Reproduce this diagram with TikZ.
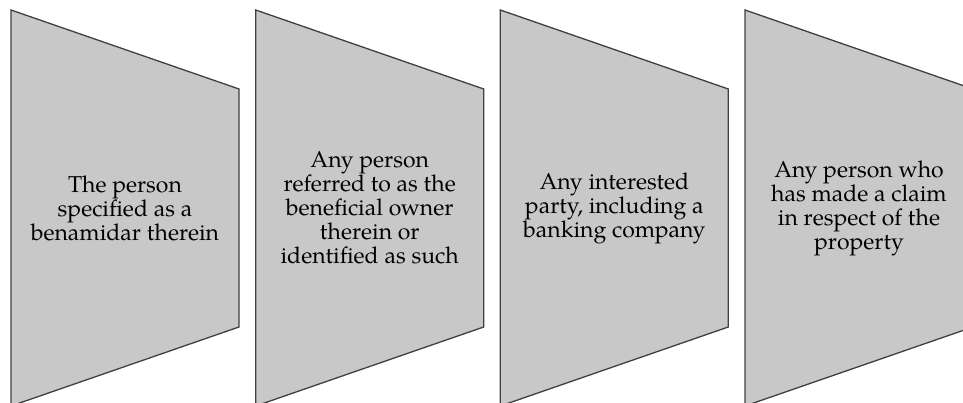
\documentclass[tikz,border=0pt]{standalone}
\usepackage{fontspec}
\setmainfont{TeX Gyre Pagella}
\definecolor{shapegray}{HTML}{C8C8C8}
\definecolor{edgegray}{HTML}{404040}
\begin{document}
\begin{tikzpicture}[x=1pt,y=1pt,
  panel/.style={fill=shapegray, draw=edgegray, line width=1.3pt, line join=miter},
  lbl/.style={align=center, font=\fontsize{23}{24}\selectfont, text=black, inner sep=0pt}]
\useasboundingbox (0,0) rectangle (963,403);
\clip (0,0) rectangle (963,403);
\foreach \L/\n in {11/1, 255.7/2, 500.3/3, 745/4} {
  \coordinate (tl\n) at (\L,393);
  \coordinate (tr\n) at (\L+228,314);
  \coordinate (br\n) at (\L+228,76);
  \coordinate (bl\n) at (\L,-3);
  \draw[panel] (tl\n) -- (tr\n) -- (br\n) -- (bl\n) -- cycle;
}
\node[lbl] (t1) at (125,195) {The person\\specified as a\\benamidar therein};
\node[lbl] (t2) at (369.7,195) {Any person\\referred to as the\\beneficial owner\\therein or\\identified as such};
\node[lbl] (t3) at (614.3,195) {Any interested\\party, including a\\banking company};
\node[lbl] (t4) at (859,195) {Any person who\\has made a claim\\in respect of the\\property};
\end{tikzpicture}
\end{document}
